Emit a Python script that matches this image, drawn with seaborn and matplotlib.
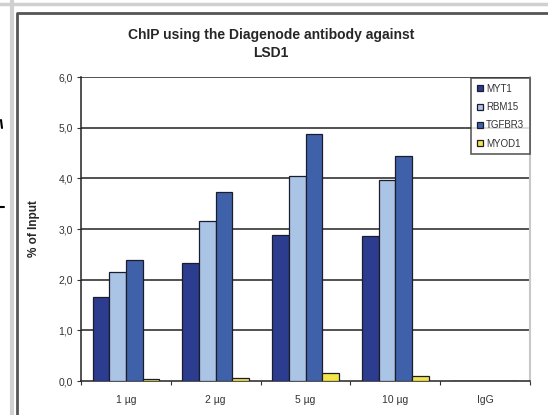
import matplotlib
matplotlib.use("Agg")
import matplotlib.pyplot as plt
from matplotlib.lines import Line2D
import seaborn as sns
import pandas as pd
import numpy as np

doses = ["1 µg", "2 µg", "5 µg", "10 µg", "IgG"]
genes = ["MYT1", "RBM15", "TGFBR3", "MYOD1"]
myt1 = [1.65, 2.33, 2.88, 2.87, 0.0]
rbm15 = [2.15, 3.15, 4.05, 3.97, 0.0]
tgfbr3 = [2.38, 3.73, 4.87, 4.45, 0.0]
myod1 = [0.03, 0.05, 0.15, 0.10, 0.0]
yticks = [0, 1, 2, 3, 4, 5, 6]

colors = ["#2c3d8f", "#aac4e6", "#3f61aa", "#f2e646"]

rows = []
for gene, vals in zip(genes, [myt1, rbm15, tgfbr3, myod1]):
    for d, v in zip(doses, vals):
        rows.append({"dose": d, "gene": gene, "value": v})
df = pd.DataFrame(rows)

sns.set_style("white")
plt.rcParams["font.family"] = ["Liberation Sans", "DejaVu Sans"]

fig = plt.figure(figsize=(5.48, 4.15), dpi=100)
ax = fig.add_axes([81 / 548, 34 / 415, 449 / 548, 304 / 415])

sns.barplot(data=df, x="dose", y="value", hue="gene", order=doses, hue_order=genes,
            palette=colors, saturation=1, width=0.74, edgecolor="#1c1c2c",
            linewidth=0.9, ax=ax, zorder=3)

ax.set_ylim(0, 6)
ax.set_xlim(-0.5, len(doses) - 0.5)
ax.set_yticks(yticks)
ax.set_yticklabels([f"{v:.1f}".replace(".", ",") for v in yticks], fontsize=7.5, color="#333333")
for v in yticks[1:]:
    ax.axhline(v, color="#222222", lw=1.1, zorder=1)

# tick marks on category boundaries, labels in the middle
ax.set_xticks(np.arange(-0.5, len(doses), 1.0))
ax.set_xticklabels([])
ax.set_xticks(np.arange(len(doses)), minor=True)
ax.set_xticklabels(doses, minor=True, fontsize=7.5, color="#333333")
ax.tick_params(axis="x", which="major", length=3, width=0.8, color="#333333", direction="out", bottom=True)
ax.tick_params(axis="x", which="minor", length=0, pad=10)
ax.tick_params(axis="y", length=3, width=0.8, color="#333333", direction="out", left=True, pad=3)

ax.set_xlabel("")
ax.set_ylabel("% of Input", fontsize=8.5, fontweight="bold", labelpad=13)

ax.spines["top"].set_visible(False)
ax.spines["left"].set_color("#222222")
ax.spines["left"].set_linewidth(1.1)
ax.spines["bottom"].set_color("#222222")
ax.spines["bottom"].set_linewidth(1.1)
ax.spines["right"].set_color("#c8c8c8")
ax.spines["right"].set_linewidth(1.5)

leg = ax.legend(loc="upper right", bbox_to_anchor=(530 / 548, 337 / 415),
                bbox_transform=fig.transFigure, borderaxespad=0, fontsize=7, frameon=True,
                handlelength=0.6, handleheight=0.6, handletextpad=0.3,
                labelspacing=0.85, borderpad=0.6, fancybox=False)
leg.get_frame().set_edgecolor("#333333")
leg.get_frame().set_linewidth(1.2)
leg.set_zorder(5)
for t in leg.get_texts():
    t.set_color("#333333")

fig.text(271 / 548, 1 - 44 / 415, "ChIP using the Diagenode antibody against\nLSD1",
         ha="center", va="center", fontsize=10, fontweight="bold", linespacing=1.4)

# page frame around the chart
fig.add_artist(Line2D([12 / 548, 12 / 548], [0, 1], color="#d0d0d0", lw=3))
fig.add_artist(Line2D([0, 1], [1 - 4 / 415, 1 - 4 / 415], color="#d0d0d0", lw=2.5))
fig.add_artist(Line2D([16.5 / 548, 16.5 / 548, 1], [0, 1 - 13.5 / 415, 1 - 13.5 / 415],
                      color="#555555", lw=2))
fig.add_artist(Line2D([1 / 548, 2 / 548], [1 - 120 / 415, 1 - 128 / 415], color="black", lw=1.5))
fig.add_artist(Line2D([0, 4 / 548], [1 - 207 / 415, 1 - 207 / 415], color="black", lw=1.5))

fig.savefig("out.png", dpi=100)
